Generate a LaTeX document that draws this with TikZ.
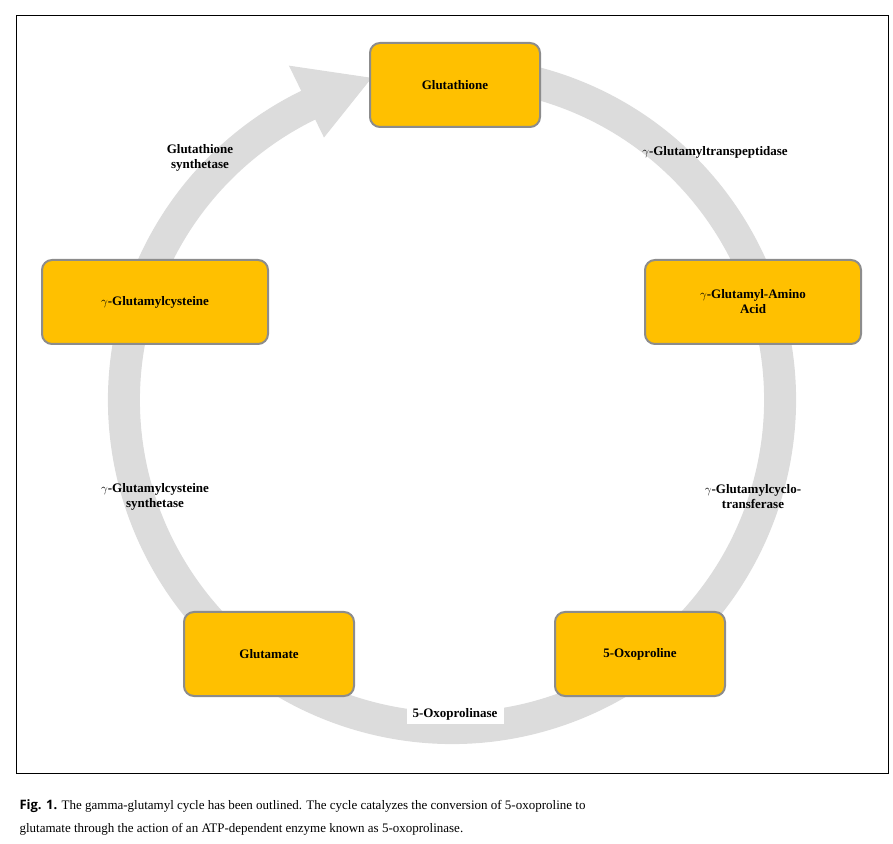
\documentclass[tikz,border=0pt]{standalone}
\usepackage{fontspec}
\setmainfont{Liberation Serif}
\newfontfamily\capsans{Open Sans}
\usetikzlibrary{positioning,calc}
\definecolor{boxfill}{HTML}{FFC000}
\definecolor{boxline}{HTML}{8C8C8C}
\definecolor{ringgray}{HTML}{DCDCDC}
\tikzset{
  cyclebox/.style={draw=boxline,line width=2pt,fill=boxfill,rounded corners=10pt,
    minimum height=84pt,align=center,font=\fontsize{13}{15}\selectfont\bfseries},
  enzyme/.style={align=center,font=\fontsize{13}{15}\selectfont\bfseries}
}
\begin{document}
\begin{tikzpicture}[x=1pt,y=1pt]
\useasboundingbox (0,0) rectangle (893,843);
%frame
\draw[line width=0.6pt] (16,70) rectangle (888,828);
%ring
\coordinate (c) at (452,443);
\draw[ringgray,line width=32pt] ($(c)+(75:328)$) arc(75:-245:328);
\fill[ringgray] ($(c)+(116:292)$) -- ($(c)+(116:372)$) -- ($(c)+(104:332)$) -- cycle;
%steps
\node[cyclebox,minimum width=170pt] (gsh) at (455,758) {Glutathione};
\node[cyclebox,minimum width=216pt] (gaa) at (753,541) {$\gamma$-Glutamyl-Amino\\Acid};
\node[cyclebox,minimum width=170pt] (oxo) at (640,189) {5-Oxoproline};
\node[cyclebox,minimum width=170pt] (glu) at (269,189) {Glutamate};
\node[cyclebox,minimum width=226pt] (gcys) at (155,541) {$\gamma$-Glutamylcysteine};
%enzymes
\node[enzyme] (gs) at (200,685) {Glutathione\\synthetase};
\node[enzyme] (ggt) at (715,691) {$\gamma$-Glutamyltranspeptidase};
\node[enzyme] (ggct) at (753,346) {$\gamma$-Glutamylcyclo-\\transferase};
\node[enzyme] (gcs) at (155,346) {$\gamma$-Glutamylcysteine\\synthetase};
\node[enzyme,fill=white,inner xsep=6pt,inner ysep=4pt] (opase) at (455,129) {5-Oxoprolinase};
%caption
\node[anchor=west,font=\fontsize{13}{15}\selectfont] (cap1) at (16,37)
  {{\capsans\bfseries Fig. 1.} The gamma-glutamyl cycle has been outlined. The cycle catalyzes the conversion of 5-oxoproline to};
\node[anchor=west,font=\fontsize{13}{15}\selectfont] (cap2) at (16,14)
  {glutamate through the action of an ATP-dependent enzyme known as 5-oxoprolinase.};
\end{tikzpicture}
\end{document}
